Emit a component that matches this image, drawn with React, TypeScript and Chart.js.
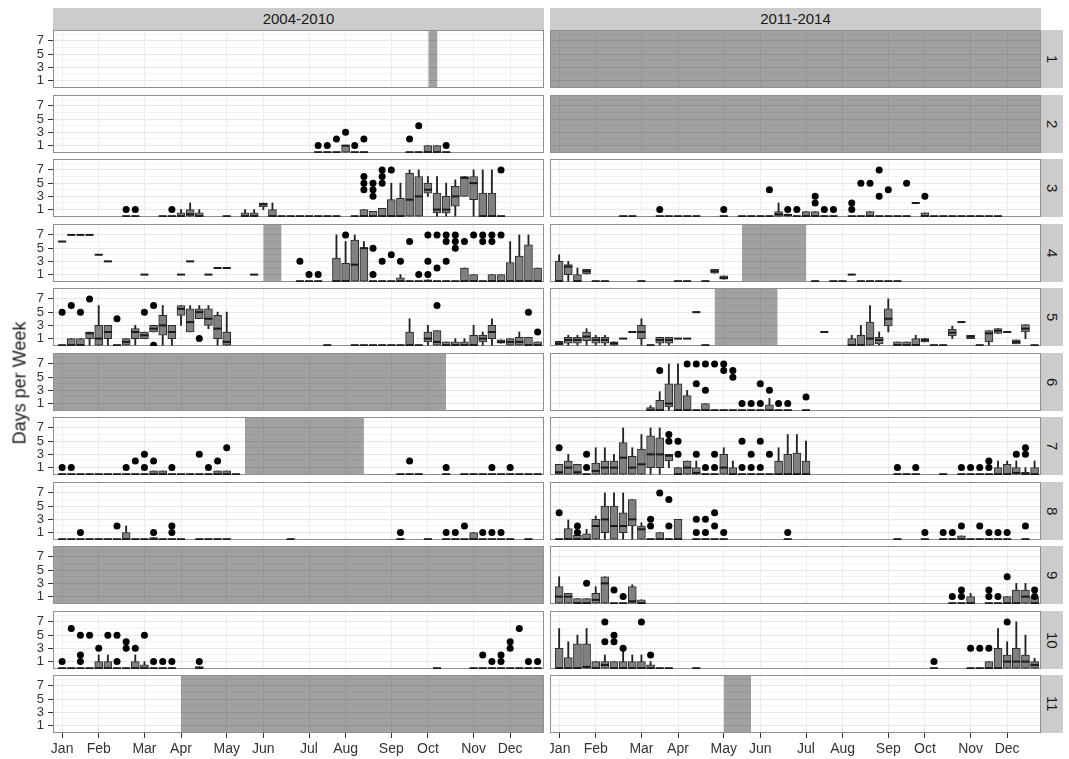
import React, { useEffect, useRef } from 'react';
import { Chart, registerables } from 'chart.js';
Chart.register(...registerables);

const FONT = '"Liberation Sans", Arial, Helvetica, sans-serif';
const PERIODS = ['2004-2010', '2011-2014'];
const SITES = ['1', '2', '3', '4', '5', '6', '7', '8', '9', '10', '11'];
const MONTHS = ['Jan', 'Feb', 'Mar', 'Apr', 'May', 'Jun', 'Jul', 'Aug', 'Sep', 'Oct', 'Nov', 'Dec'];
const MONTH_WEEKS = [1, 5, 10, 14, 19, 23, 28, 32, 37, 41, 46, 50];
const Y_TICKS = [1, 3, 5, 7];
const Y_GRID = [1, 2, 3, 4, 5, 6, 7, 8];
const X_MIN = 0, X_MAX = 53.7, Y_MIN = -0.12, Y_MAX = 8.65;

// box rows: [week, whiskerLow, q1, median, q3, whiskerHigh]; zero: weeks where all values are 0; out: [week, value]
const FULL = [[0, 53.7]];
const NONE: number[][] = [];

const L1_shade = [[41.05, 42.05]];

const L2_zero = [29, 30, 31, 33, 34, 39, 40, 43];
const L2_box = [[32, 0, 0, 1, 1, 1], [41, 0, 0, 0, 1, 1], [42, 0, 0, 0, 1, 1]];
const L2_out = [[29, 1], [30, 1], [31, 2], [32, 3], [33, 1], [34, 2], [39, 2], [40, 4], [43, 1]];

const L3_zero = [8, 9, 12, 13, 19, 25, 26, 27, 28, 29, 30, 31, 33, 49];
const L3_box = [[14, 0, 0, 0, 0.5, 1], [15, 0, 0, 0.3, 1, 2], [16, 0, 0, 0, 0.5, 1], [21, 0, 0, 0, 0.5, 1], [22, 0, 0, 0, 0.5, 1], [23, 1, 1.4, 1.8, 2, 2], [24, 0, 0, 0, 1, 2], [34, 0, 0, 0, 1, 1], [35, 0, 0, 0, 0.75, 0.75], [36, 0, 0, 0, 1.2, 1.2], [37, 0, 0, 0, 2.5, 5], [38, 0, 0, 0, 2.7, 5], [39, 0, 0, 2.5, 6.5, 7], [40, 0, 0, 3, 6, 7], [41, 3, 3.5, 4, 5, 6], [42, 0, 0.5, 1, 3.5, 6], [43, 0, 0.5, 1, 3, 5], [44, 0, 1.5, 3, 4.5, 5.5], [45, 3, 3, 5.8, 6, 6], [46, 0, 2.5, 5, 6, 7], [47, 0, 0, 0, 3.5, 7], [48, 0, 0, 0, 3.5, 7]];
const L3_out = [[8, 1], [9, 1], [13, 1], [34, 4], [34, 5], [34, 6], [35, 3], [35, 4], [35, 5], [36, 5], [36, 6], [36, 7], [37, 7], [49, 7]];

const R3_zero = [8, 9, 12, 13, 14, 15, 16, 19, 21, 22, 23, 24, 27, 30, 31, 33, 34, 36, 37, 38, 39, 42, 43, 44, 45, 46, 47, 48, 49];
const R3_box = [[25, 0, 0, 0.3, 0.7, 2], [26, 0, 0, 0.2, 0.3, 0.3], [28, 0, 0, 0, 0.7, 0.7], [29, 0, 0, 0, 0.7, 0.7], [35, 0, 0, 0, 0.7, 0.7], [40, 2, 2, 2, 2, 2], [41, 0, 0, 0, 0.5, 0.5]];
const R3_out = [[12, 1], [19, 1], [24, 4], [26, 1], [27, 1], [29, 3], [29, 2], [30, 1], [31, 1], [33, 2], [33, 1], [34, 5], [35, 5], [36, 7], [36, 3], [37, 4], [39, 5], [41, 3]];

const L4_shade = [[23, 25]];
const L4_zero = [27, 28, 29, 35, 36, 37, 39, 40, 42, 43, 44, 47];
const L4_box = [[1, 6, 6, 6, 6, 6], [2, 7, 7, 7, 7, 7], [3, 7, 7, 7, 7, 7], [4, 7, 7, 7, 7, 7], [5, 4, 4, 4, 4, 4], [6, 3, 3, 3, 3, 3], [10, 1, 1, 1, 1, 1], [14, 1, 1, 1, 1, 1], [15, 3, 3, 3, 3, 3], [17, 1, 1, 1, 1, 1], [18, 2, 2, 2, 2, 2], [19, 2, 2, 2, 2, 2], [22, 1, 1, 1, 1, 1], [31, 0, 0, 0, 3.5, 7], [32, 0, 0, 0, 2.7, 6], [33, 0, 0, 2.5, 6.2, 7], [34, 0, 0, 5, 5, 6], [38, 0, 0, 0, 0.5, 1], [41, 0, 0, 0, 0.2, 0.2], [45, 0, 0, 0, 2, 2], [46, 0, 0, 0, 1, 1], [48, 0, 0, 0, 1, 1], [49, 0, 0, 0, 1, 1], [50, 0, 0, 0, 2.8, 6], [51, 0, 0, 0, 3.8, 7], [52, 0, 0, 0, 5.5, 7], [53, 0, 0, 0, 2, 2]];
const L4_out = [[27, 3], [28, 1], [29, 1], [32, 7], [35, 5], [35, 1], [36, 3], [37, 4], [38, 3], [39, 6], [40, 1], [41, 7], [41, 3], [41, 1], [42, 7], [42, 2], [43, 7], [43, 6], [43, 3], [44, 7], [44, 6], [44, 5], [45, 6], [46, 7], [47, 7], [47, 6], [48, 7], [48, 6], [49, 7]];

const R4_shade = [[21, 28]];
const R4_zero = [5, 6, 10, 14, 15, 17, 29, 31, 32, 34, 35, 36, 37, 38];
const R4_box = [[1, 0, 0, 0, 3, 4], [2, 0, 1, 2.2, 2.5, 3], [3, 0, 0, 0, 1, 2], [4, 1.1, 1.1, 1.5, 1.8, 1.8], [18, 1.2, 1.2, 1.5, 1.8, 1.8], [19, 0.3, 0.3, 0.5, 0.8, 0.8], [33, 1, 1, 1, 1, 1]];

const L5_zero = [1, 7, 30, 33, 34, 35, 36, 37, 38, 40];
const L5_box = [[2, 0, 0, 0, 1, 1], [3, 0, 0, 0, 1, 1], [4, 0, 1, 1.8, 2, 2], [5, 0, 0, 1, 3, 6], [6, 0, 1, 2, 3, 3], [8, 0, 0, 0.5, 1, 1], [9, 0, 1, 2, 2.5, 3], [10, 1, 1, 1.5, 2, 2], [11, 2, 2, 2.5, 3, 3], [12, 0, 1.5, 3, 4.5, 6], [13, 0, 1, 2, 3, 3], [14, 3, 4.5, 5.5, 6, 6], [15, 2, 2, 3.5, 5.5, 6], [16, 4, 4, 5, 5.5, 6], [17, 2.5, 3, 4, 5.5, 6], [18, 0, 1, 2.5, 4.5, 5], [19, 0, 0, 0.5, 2, 5], [39, 0, 0, 0, 2, 4], [41, 0, 0.5, 1, 2, 3], [42, 0, 0, 0.5, 2.2, 2.2], [43, 0, 0, 0, 0.5, 0.5], [44, 0, 0, 0, 0.5, 1], [45, 0, 0, 0, 0.5, 1], [46, 0, 0, 0, 1.5, 3], [47, 0, 0.5, 1, 1.5, 2], [48, 0, 1, 2, 3, 4], [49, 0.3, 0.3, 0.5, 0.8, 0.8], [50, 0, 0, 0.5, 1, 1], [51, 0, 0, 0.5, 1.2, 2], [52, 0, 0, 0, 1.2, 1.2], [53, 0, 0, 0, 0.5, 0.5]];
const L5_out = [[1, 5], [2, 6], [3, 5], [4, 7], [7, 4], [10, 5], [11, 6], [11, 0], [16, 1], [42, 6], [52, 5], [53, 2]];

const R5_shade = [[18, 24.9]];
const R5_zero = [11, 17, 42, 43, 47, 53];
const R5_box = [[1, 0.1, 0.1, 0.3, 0.6, 0.6], [2, 0, 0.3, 0.8, 1.2, 1.5], [3, 0, 0.3, 0.8, 1.2, 1.5], [4, 0, 0.7, 1.3, 2, 2.5], [5, 0, 0.3, 0.8, 1.2, 1.5], [6, 0, 0.3, 0.8, 1.2, 1.5], [7, 0, 0, 0.3, 0.5, 0.5], [8, 1, 1, 1, 1, 1], [9, 2, 2, 2, 2, 2], [10, 0, 1, 2, 3, 4], [12, 0, 0.3, 0.8, 1.2, 1.2], [13, 0, 0.3, 0.8, 1.2, 1.2], [14, 1, 1, 1, 1, 1], [15, 1, 1, 1, 1, 1], [16, 5, 5, 5, 5, 5], [30, 2, 2, 2, 2, 2], [33, 0, 0, 0, 1, 1.5], [34, 0, 0, 0, 1.5, 3], [35, 0, 0, 1, 3.5, 6], [36, 0, 0.2, 0.8, 1.2, 2], [37, 2, 2.9, 4, 5.5, 7], [38, 0, 0, 0, 0.5, 0.5], [39, 0, 0, 0, 0.5, 0.5], [40, 0, 0, 0, 1, 1.5], [41, 0.5, 0.5, 0.8, 1, 1], [44, 1, 1.4, 1.9, 2.4, 2.9], [45, 3.5, 3.5, 3.5, 3.5, 3.5], [46, 1, 1, 1.3, 1.5, 1.5], [48, 0, 0.5, 1.8, 2.2, 2.2], [49, 1.8, 1.8, 2.2, 2.5, 2.5], [50, 2, 2, 2, 2, 2], [51, 0.2, 0.2, 0.5, 0.8, 0.8], [52, 1, 2, 2.5, 3.1, 3.1]];

const L6_shade = [[0, 43]];

const R6_zero = [16, 18, 19, 20, 21, 22, 23, 25, 26, 28];
const R6_box = [[11, 0, 0, 0, 0.4, 0.7], [12, 0, 0, 0, 1.5, 2.8], [13, 0, 0.5, 1, 4, 7], [14, 0, 0, 0, 4, 7], [15, 0, 0, 0, 2.2, 3], [17, 0, 0, 0, 1, 1], [24, 0, 0, 0, 0.8, 1.8]];
const R6_out = [[12, 6], [15, 7], [16, 7], [16, 4], [17, 7], [17, 3], [18, 7], [19, 7], [19, 6], [20, 6], [20, 5], [21, 1], [22, 1], [23, 4], [23, 1], [24, 3], [25, 1], [26, 1], [28, 2]];

const L7_shade = [[21, 34]];
const L7_zero = [1, 2, 3, 4, 5, 6, 7, 8, 9, 10, 13, 14, 15, 16, 17, 20, 38, 39, 40, 43, 45, 46, 47, 48, 49, 50, 51, 52, 53];
const L7_box = [[11, 0, 0, 0, 0.5, 0.5], [12, 0, 0, 0, 0.5, 0.5], [18, 0, 0, 0, 0.5, 0.5], [19, 0, 0, 0, 0.5, 0.5]];
const L7_out = [[1, 1], [2, 1], [8, 1], [9, 2], [10, 3], [10, 1], [11, 2], [13, 1], [16, 3], [17, 1], [18, 2], [19, 4], [39, 2], [43, 1], [48, 1], [50, 1]];

const R7_zero = [4, 17, 18, 21, 22, 23, 24, 38, 39, 40, 43, 45, 46, 47, 48];
const R7_box = [[1, 0, 0, 0.3, 1.5, 1.5], [2, 0, 0, 1, 2, 3], [3, 0, 0, 0.3, 1.5, 1.5], [5, 0, 0, 0.5, 1.7, 4], [6, 0, 0, 1, 2, 4], [7, 0, 0, 1, 2, 3], [8, 0, 0, 2.5, 4.8, 7], [9, 0, 0, 1, 2.7, 4], [10, 0, 0, 1.5, 3.8, 6], [11, 0, 1, 3, 5.8, 7], [12, 0, 1, 3, 5.5, 7], [13, 1, 2, 2.8, 3, 3], [14, 0, 0, 0, 1, 1], [15, 0, 0, 1, 2, 2], [16, 0, 0, 0.2, 1, 2], [19, 0, 0, 1, 3, 4], [20, 0, 0, 0, 1, 2], [25, 0, 0, 0, 2, 4], [26, 0, 0, 0, 3, 6], [27, 0, 0, 0, 3.2, 6], [28, 0, 0, 0, 2, 5], [49, 0, 0, 0, 1, 2], [50, 0, 0, 0, 1.5, 2], [51, 0, 0, 0.2, 1, 2], [52, 0, 0, 0, 0.3, 1], [53, 0, 0, 0, 1, 2]];
const R7_out = [[1, 4], [4, 3], [4, 1], [13, 6], [13, 5], [14, 5], [14, 3], [16, 3], [17, 1], [18, 3], [18, 1], [21, 5], [21, 1], [22, 3], [22, 1], [23, 5], [23, 1], [24, 3], [38, 1], [40, 1], [45, 1], [46, 1], [47, 1], [48, 2], [48, 1], [51, 3], [52, 4], [52, 3]];

const L8_zero = [1, 2, 3, 4, 5, 6, 7, 9, 10, 12, 13, 14, 16, 17, 18, 19, 26, 38, 41, 43, 44, 45, 47, 48, 49, 50, 52];
const L8_box = [[8, 0, 0, 0, 1, 2], [11, 0, 0, 0, 0.25, 0.25], [46, 0, 0, 0, 1, 1]];
const L8_out = [[3, 1], [7, 2], [11, 1], [13, 2], [13, 1], [38, 1], [43, 1], [44, 1], [45, 2], [47, 1], [48, 1], [49, 1]];

const R8_zero = [1, 11, 13, 16, 17, 18, 19, 26, 38, 41, 43, 44, 46, 47, 48, 49, 50, 52];
const R8_box = [[2, 0, 0, 0, 1.6, 2.9], [3, 0, 0, 0, 0.6, 0.6], [4, 0, 0, 0, 0.8, 1.5], [5, 0, 0, 2, 3, 3.5], [6, 0, 1, 3, 5, 7], [7, 0, 0, 2, 5, 7], [8, 0, 1, 2, 4, 7], [9, 0, 2, 3, 6, 6], [10, 0, 0, 1.5, 2, 2.5], [12, 0, 0, 0, 1, 1], [14, 0, 0, 0, 3, 3], [45, 0, 0, 0, 0.5, 0.5]];
const R8_out = [[1, 4], [3, 2], [3, 1], [11, 3], [11, 2], [12, 7], [13, 6], [13, 2], [16, 3], [16, 1], [17, 3], [17, 1], [18, 4], [18, 2], [19, 1], [26, 1], [41, 1], [43, 1], [44, 1], [45, 2], [47, 2], [48, 1], [49, 1], [50, 1], [52, 2]];

const R9_zero = [7, 8, 44, 45, 48, 49];
const R9_box = [[1, 0, 0, 1, 2.5, 4], [2, 0, 0, 1, 1.5, 1.5], [3, 0, 0, 0, 0.7, 0.7], [4, 0, 0, 0, 0.7, 0.7], [5, 0, 0, 0.5, 1.5, 2.5], [6, 0, 0, 3, 4, 4], [9, 0, 0, 0.3, 2.5, 2.8], [10, 0, 0, 0, 0.5, 0.5], [46, 0, 0, 0, 1, 1.5], [50, 0, 0, 0, 1, 1], [51, 0, 0, 0, 2, 3], [52, 0, 0, 1, 2, 3], [53, 0, 0, 0, 1, 1]];
const R9_out = [[4, 3], [7, 2], [8, 1], [44, 1], [45, 2], [45, 1], [48, 2], [48, 1], [49, 1], [50, 4], [53, 2], [53, 1]];

const L10_zero = [1, 2, 3, 4, 7, 8, 11, 12, 13, 42, 46, 47, 48, 49, 50, 51, 52, 53];
const L10_box = [[5, 0, 0, 0, 1, 2], [6, 0, 0, 0, 1, 2], [9, 0, 0, 0, 1, 2], [10, 0, 0, 0, 0.5, 1], [16, 0, 0, 0, 0.25, 0.25]];
const L10_out = [[1, 1], [2, 6], [3, 5], [3, 2], [3, 1], [4, 5], [5, 3], [6, 5], [7, 5], [7, 1], [8, 4], [8, 3], [9, 3], [10, 5], [11, 1], [12, 1], [13, 1], [16, 1], [47, 2], [48, 1], [49, 2], [49, 1], [50, 4], [50, 3], [51, 6], [52, 1], [53, 1]];

const R10_zero = [12, 13, 16, 42, 46, 47];
const R10_box = [[1, 0, 0, 0, 3, 6], [2, 0, 0, 0, 1.6, 4], [3, 0, 0, 0, 3.7, 5], [4, 0, 0, 0.2, 3.7, 6], [5, 0, 0, 0, 1, 1], [6, 0, 0, 0.5, 1, 2], [7, 0, 0, 0, 1, 1], [8, 0, 0, 0, 1, 3], [9, 0, 0, 0, 1, 2], [10, 0, 0, 0, 1, 2], [11, 0, 0, 0, 0.5, 1], [48, 0, 0, 0, 1, 1], [49, 0, 0, 0, 3, 6], [50, 0, 0, 1, 2, 4], [51, 0, 0, 1, 3, 7], [52, 0, 0, 1, 2, 5], [53, 0, 0, 0.5, 1, 1.5]];
const R10_out = [[6, 7], [6, 4], [7, 5], [7, 4], [8, 3], [10, 7], [11, 2], [42, 1], [46, 3], [47, 3], [48, 3], [50, 7]];

const L11_shade = [[14, 53.7]];
const R11_shade = [[19, 22]];

type PanelData = { shade: number[][]; box: number[][]; zero: number[]; out: number[][] };
const P = (shade: number[][], box: number[][], zero: number[], out: number[][]): PanelData => ({ shade, box, zero, out });

const GRID: PanelData[][] = [
  [P(L1_shade, NONE, [], NONE), P(FULL, NONE, [], NONE)],
  [P(NONE, L2_box, L2_zero, L2_out), P(FULL, NONE, [], NONE)],
  [P(NONE, L3_box, L3_zero, L3_out), P(NONE, R3_box, R3_zero, R3_out)],
  [P(L4_shade, L4_box, L4_zero, L4_out), P(R4_shade, R4_box, R4_zero, NONE)],
  [P(NONE, L5_box, L5_zero, L5_out), P(R5_shade, R5_box, R5_zero, NONE)],
  [P(L6_shade, NONE, [], NONE), P(NONE, R6_box, R6_zero, R6_out)],
  [P(L7_shade, L7_box, L7_zero, L7_out), P(NONE, R7_box, R7_zero, R7_out)],
  [P(NONE, L8_box, L8_zero, L8_out), P(NONE, R8_box, R8_zero, R8_out)],
  [P(FULL, NONE, [], NONE), P(NONE, R9_box, R9_zero, R9_out)],
  [P(NONE, L10_box, L10_zero, L10_out), P(NONE, R10_box, R10_zero, R10_out)],
  [P(L11_shade, NONE, [], NONE), P(R11_shade, NONE, [], NONE)],
];

const SHADE = 'rgba(0,0,0,0.37)';

function drawFrame(chart: any) {
  const { ctx, chartArea: a } = chart;
  ctx.save();
  ctx.strokeStyle = '#8f8f8f';
  ctx.lineWidth = 1;
  ctx.strokeRect(a.left + 0.5, a.top + 0.5, a.right - a.left - 1, a.bottom - a.top - 1);
  ctx.restore();
}

const framePlugin = {
  id: 'panelFrame',
  beforeDatasetsDraw(chart: any) {
    if (!chart.data.datasets.some((d: any) => d.isShade)) drawFrame(chart);
  },
  afterDatasetDraw(chart: any, args: any) {
    const ds: any = chart.data.datasets[args.index];
    if (ds && ds.isShade && args.index === 0) drawFrame(chart);
  },
};

function buildConfig(p: PanelData, showX: boolean, showY: boolean): any {
  const datasets: any[] = [];
  p.shade.forEach(([a, b]) => {
    datasets.push({
      type: 'line', isShade: true,
      data: [{ x: a, y: Y_MAX }, { x: b, y: Y_MAX }],
      fill: 'start', backgroundColor: SHADE, borderWidth: 0, pointRadius: 0, order: 5,
    });
  });
  const all = [...p.box, ...p.zero.map((w) => [w, 0, 0, 0, 0, 0])];
  if (all.length) {
    datasets.push({
      type: 'bar', data: all.map((b) => ({ x: b[0], y: [b[1], b[5]] })),
      backgroundColor: '#222', borderWidth: 0, barThickness: 1.2, grouped: false, order: 4,
    });
    datasets.push({
      type: 'bar', data: all.map((b) => ({ x: b[0], y: [b[2], b[4]] })),
      backgroundColor: '#808080', borderColor: '#2a2a2a', borderWidth: 1, borderSkipped: false,
      barThickness: 8, grouped: false, order: 3,
    });
    datasets.push({
      type: 'scatter', data: all.map((b) => ({ x: b[0], y: b[3] })),
      pointStyle: 'line', pointRadius: 4, pointBorderWidth: 2, borderColor: '#1a1a1a',
      pointBorderColor: '#1a1a1a', order: 2, clip: 2,
    });
  }
  if (p.out.length) {
    datasets.push({
      type: 'scatter', data: p.out.map((o) => ({ x: o[0], y: o[1] })),
      pointStyle: 'circle', pointRadius: 3.5, pointBorderWidth: 0,
      pointBackgroundColor: '#000', backgroundColor: '#000', order: 1, clip: 4,
    });
  }
  return {
    type: 'bar',
    data: { datasets },
    plugins: [framePlugin],
    options: {
      animation: false, responsive: false, devicePixelRatio: 1, events: [],
      layout: { padding: 0, autoPadding: false },
      plugins: { legend: { display: false }, tooltip: { enabled: false } },
      scales: {
        x: {
          type: 'linear', min: X_MIN, max: X_MAX, offset: false,
          afterBuildTicks: (s: any) => { s.ticks = MONTH_WEEKS.map((v) => ({ value: v })); },
          afterFit: (s: any) => { s.height = showX ? 26 : 0; s.paddingLeft = 0; s.paddingRight = 0; },
          ticks: {
            display: showX, autoSkip: false, maxRotation: 0, minRotation: 0, padding: 3,
            color: '#333', font: { family: FONT, size: 14 },
            callback: (v: any) => { const i = MONTH_WEEKS.indexOf(v); return i >= 0 ? MONTHS[i] : ''; },
          },
          grid: { offset: false, color: '#ebebeb', lineWidth: 1, drawTicks: showX, tickLength: 5, tickColor: '#333', tickWidth: 1 },
          border: { display: false },
        },
        y: {
          type: 'linear', min: Y_MIN, max: Y_MAX,
          afterBuildTicks: (s: any) => { s.ticks = Y_GRID.map((v) => ({ value: v })); },
          afterFit: (s: any) => { s.width = showY ? 53 : 0; s.paddingTop = 0; s.paddingBottom = 0; },
          ticks: {
            display: showY, autoSkip: false, padding: 4,
            color: '#333', font: { family: FONT, size: 13 },
            callback: (v: any) => (Y_TICKS.includes(v) ? String(v) : ''),
          },
          grid: {
            offset: false,
            color: (c: any) => (c.tick && Y_TICKS.includes(c.tick.value) ? '#e6e6e6' : '#f3f3f3'),
            lineWidth: 1, drawTicks: showY, tickLength: 5, tickWidth: 1,
            tickColor: (c: any) => (c.tick && Y_TICKS.includes(c.tick.value) ? '#333' : 'rgba(0,0,0,0)'),
          },
          border: { display: false },
        },
      },
    },
  };
}

function Panel({ p, left, top, width, height, showX, showY }: any) {
  const ref = useRef<HTMLCanvasElement>(null);
  useEffect(() => {
    const chart = new Chart(ref.current as HTMLCanvasElement, buildConfig(p, showX, showY));
    return () => chart.destroy();
  }, []);
  return (
    <canvas ref={ref} width={width} height={height}
      style={{ position: 'absolute', left, top, width, height, display: 'block' }} />
  );
}

const ROW_TOP = (i: number) => 30 + Math.round(i * 64.5);
const PANEL_H = 58;
const COL_LEFT = [53, 550];
const PLOT_W = 491;

export default function App() {
  return (
    <div style={{ position: 'absolute', left: 0, top: 0, width: 1069, height: 759, background: '#fff', fontFamily: FONT, overflow: 'hidden' }}>
      {PERIODS.map((t, c) => (
        <div key={t} style={{ position: 'absolute', left: COL_LEFT[c], top: 8, width: PLOT_W, height: 22, background: '#cccccc', color: '#1a1a1a', fontSize: 15, lineHeight: '22px', textAlign: 'center' }}>{t}</div>
      ))}
      {SITES.map((s, r) => (
        <div key={s} style={{ position: 'absolute', left: 1041, top: ROW_TOP(r), width: 22, height: PANEL_H, background: '#cccccc', color: '#1a1a1a', fontSize: 15, display: 'flex', alignItems: 'center', justifyContent: 'center' }}>
          <span style={{ writingMode: 'vertical-rl' as any }}>{s}</span>
        </div>
      ))}
      {GRID.map((row, r) => row.map((p, c) => {
        const showY = c === 0;
        const showX = r === GRID.length - 1;
        const left = showY ? 0 : COL_LEFT[c];
        const width = showY ? COL_LEFT[0] + PLOT_W : PLOT_W;
        const height = PANEL_H + (showX ? 26 : 0);
        return <Panel key={r + '-' + c} p={p} left={left} top={ROW_TOP(r)} width={width} height={height} showX={showX} showY={showY} />;
      }))}
      <div style={{ position: 'absolute', left: 20, top: 383, transform: 'translate(-50%, -50%) rotate(-90deg)', fontSize: 18, color: '#1a1a1a', whiteSpace: 'nowrap' }}>Days per Week</div>
    </div>
  );
}
